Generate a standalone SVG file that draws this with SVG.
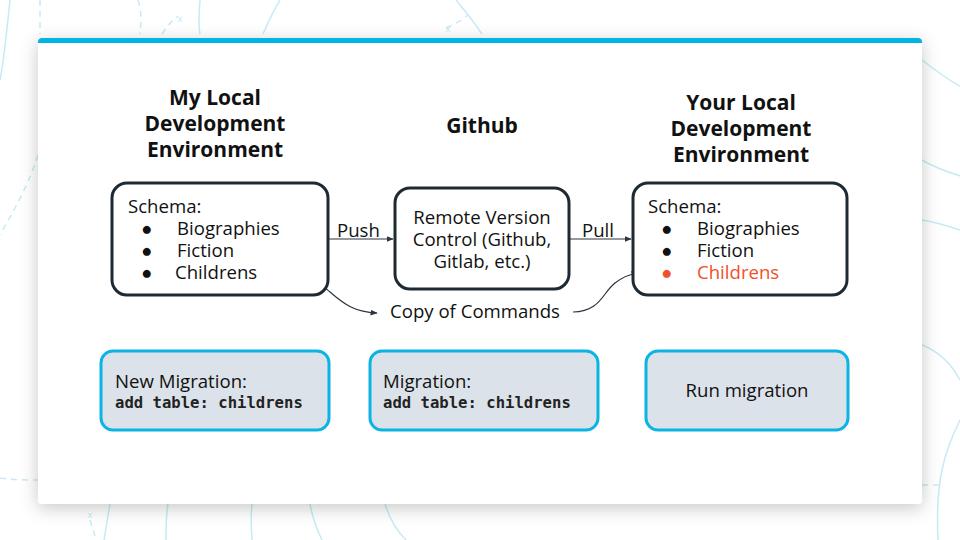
<svg xmlns="http://www.w3.org/2000/svg" width="960" height="540" viewBox="0 0 960 540">
<defs>
<filter id="sh" x="-10%" y="-10%" width="120%" height="130%">
<feDropShadow dx="0" dy="4" stdDeviation="9" flood-color="#000" flood-opacity="0.22"/>
</filter>
<marker id="ah" viewBox="0 0 10 10" refX="9" refY="5" markerWidth="6" markerHeight="6" orient="auto">
<path d="M0,1 L10,5 L0,9 z" fill="#2a3540"/>
</marker>
<style>
.bg{fill:none;stroke:#c6ebf5;stroke-width:1.5}
.bgd{fill:none;stroke:#c6ebf5;stroke-width:1.5;stroke-dasharray:6 5}
.title{font-family:"Open Sans","Noto Sans",sans-serif;font-weight:bold;font-size:21px;fill:#111;text-anchor:middle}
.t{font-family:"Open Sans","Noto Sans",sans-serif;font-size:18.6px;fill:#111}
.c{text-anchor:middle}
.mono{font-family:"DejaVu Sans Mono","Liberation Mono",monospace;font-weight:bold;font-size:15.6px;fill:#222}
.node{fill:#fff;stroke:#1e2a33;stroke-width:3}
.mig{fill:#dce2e9;stroke:#0bb4e4;stroke-width:3}
.conn{fill:none;stroke:#2a3540;stroke-width:1.2}
.red{fill:#f0502a}
</style>
</defs>
<rect width="960" height="540" fill="#fff"/>
<g id="background">
<path class="bg" d="M10,0 C6,40 4,60 0,80"/>
<path class="bgd" d="M40,0 L40,34"/>
<path class="bgd" d="M138,0 C142,12 141,24 140,34"/>
<path class="bgd" d="M162,34 C168,25 172,20 178,16"/>
<path class="bg" d="M200,0 C199,12 198,24 200,34"/>
<path class="bg" d="M263,34 C270,18 275,8 280,0"/>
<path class="bg" d="M456,0 C466,12 474,22 482,34"/>
<path class="bgd" d="M446,28 C455,24 462,20 468,15"/>
<path class="bg" d="M922,60 C935,70 948,80 960,86"/>
<path class="bg" d="M922,160 C935,168 948,172 960,176"/>
<path class="bg" d="M922,220 C935,222 948,226 960,230"/>
<path class="bg" d="M922,345 C940,352 952,365 960,380"/>
<path class="bg" d="M960,420 C945,450 935,480 938,540"/>
<path class="bgd" d="M922,485 L944,485"/>
<path class="bgd" d="M38,155 C30,180 20,200 0,235"/>
<path class="bgd" d="M0,478 C15,480 28,480 38,480"/>
<path class="bg" d="M110,504 C108,515 106,528 104,540"/>
<path class="bg" d="M168,504 C166,515 166,528 166,540"/>
<path class="bg" d="M252,504 C251,515 251,528 252,540"/>
<path class="bg" d="M310,504 C312,515 316,528 322,540"/>
<path class="bg" d="M385,504 C390,520 398,532 406,540"/>
<path class="bgd" d="M90,520 C92,527 94,532 96,540"/>
<text x="90" y="518" font-family="DejaVu Sans" font-size="9" fill="#c6ebf5" text-anchor="middle">x</text>
<text x="180" y="22" font-family="DejaVu Sans" font-size="9" fill="#c6ebf5" text-anchor="middle">x</text>
<text x="448" y="32" font-family="DejaVu Sans" font-size="9" fill="#c6ebf5" text-anchor="middle">x</text>
</g>
<g id="card">
<rect x="38" y="38" width="884" height="466" rx="4" fill="#fff" filter="url(#sh)"/>
<path d="M38,43 L38,42 Q38,38 42,38 L918,38 Q922,38 922,42 L922,43 z" fill="#00b5e2"/>
</g>
<g id="title-mine">
<text class="title" x="215" y="105">My Local</text>
<text class="title" x="215" y="131">Development</text>
<text class="title" x="215" y="157">Environment</text>
</g>
<g id="title-github">
<text class="title" x="482" y="133">Github</text>
</g>
<g id="title-yours">
<text class="title" x="741" y="110">Your Local</text>
<text class="title" x="741" y="136">Development</text>
<text class="title" x="741" y="162">Environment</text>
</g>
<g id="connectors">
<line class="conn" x1="328" y1="239" x2="393" y2="239" marker-end="url(#ah)"/>
<line class="conn" x1="569" y1="239" x2="631" y2="239" marker-end="url(#ah)"/>
<path class="conn" d="M277,273 C310,274 318,282 330,292 C345,305 355,312 377,313" marker-end="url(#ah)"/>
<path class="conn" d="M573,312 C600,312 603,292 615,283 C623,277 630,274 638,273" marker-end="url(#ah)"/>
<text class="t" x="337" y="237">Push</text>
<text class="t" x="582" y="237">Pull</text>
<text class="t" x="390" y="318">Copy of Commands</text>
</g>
<g id="node-mine">
<rect class="node" x="112" y="183" width="216" height="112" rx="15"/>
<text class="t" x="128" y="213">Schema:</text>
<text class="t" x="141" y="235">●</text>
<text class="t" x="177" y="235">Biographies</text>
<text class="t" x="141" y="257">●</text>
<text class="t" x="177" y="257">Fiction</text>
<text class="t" x="141" y="279">●</text>
<text class="t" x="175" y="279">Childrens</text>
</g>
<g id="node-github">
<rect class="node" x="395" y="188" width="174" height="101" rx="15"/>
<text class="t c" x="482" y="224">Remote Version</text>
<text class="t c" x="482" y="246">Control (Github,</text>
<text class="t c" x="482" y="268">Gitlab, etc.)</text>
</g>
<g id="node-yours">
<rect class="node" x="633" y="183" width="214" height="112" rx="15"/>
<text class="t" x="648" y="213">Schema:</text>
<text class="t" x="661" y="235">●</text>
<text class="t" x="697" y="235">Biographies</text>
<text class="t" x="661" y="257">●</text>
<text class="t" x="697" y="257">Fiction</text>
<text class="t red" x="661" y="279">●</text>
<text class="t red" x="697" y="279">Childrens</text>
</g>
<g id="mig-new">
<rect class="mig" x="101" y="351" width="228" height="79" rx="12"/>
<text class="t" x="115" y="388">New Migration:</text>
<text class="mono" x="115" y="408">add table: childrens</text>
</g>
<g id="mig-github">
<rect class="mig" x="370" y="351" width="228" height="79" rx="12"/>
<text class="t" x="383" y="388">Migration:</text>
<text class="mono" x="383" y="408">add table: childrens</text>
</g>
<g id="mig-run">
<rect class="mig" x="646" y="351" width="202" height="79" rx="12"/>
<text class="t c" x="747" y="397">Run migration</text>
</g>
</svg>
